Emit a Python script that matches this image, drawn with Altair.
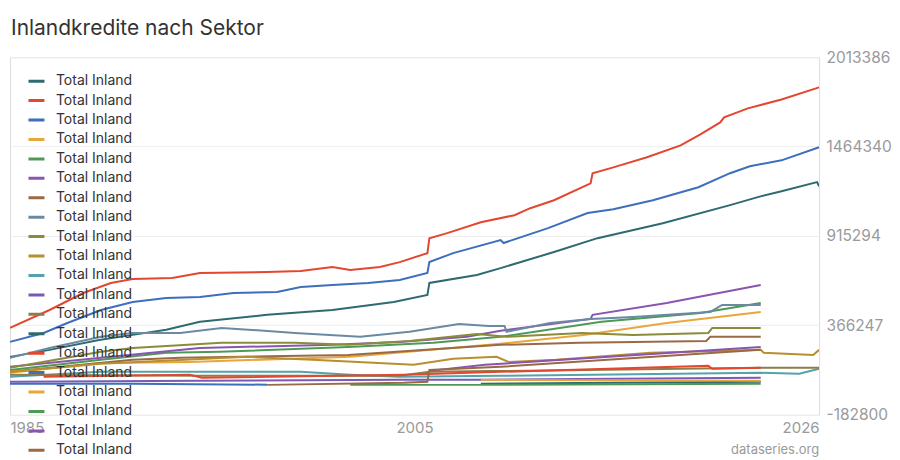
import altair as alt
import pandas as pd

# ---- data (year, value) ----
s01_years = [1985.0, 1987.0, 1989.5, 1991.2, 1992.9, 1994.6, 1998.0, 2001.3, 2004.4, 2006.1, 2006.2, 2008.6, 2009.8, 2012.5, 2014.7, 2018.0, 2021.4, 2022.8, 2024.0, 2025.8, 2025.9]
s01_values = [173000, 216000, 277000, 308000, 339000, 388000, 431000, 461000, 510000, 553000, 627000, 676000, 718000, 817000, 902000, 994000, 1105000, 1154000, 1190000, 1246000, 1221000]

s02_years = [1985.0, 1987.0, 1988.7, 1990.1, 1991.2, 1993.2, 1994.6, 1998.0, 1999.7, 2001.3, 2002.2, 2003.7, 2004.7, 2006.1, 2006.2, 2007.1, 2008.8, 2010.5, 2011.3, 2012.5, 2014.35, 2014.45, 2015.5, 2017.2, 2018.9, 2019.9, 2020.9, 2021.1, 2022.3, 2024.0, 2025.9]
s02_values = [351000, 461000, 565000, 627000, 651000, 657000, 688000, 694000, 700000, 725000, 706000, 725000, 755000, 810000, 902000, 933000, 1000000, 1043000, 1086000, 1135000, 1239000, 1301000, 1337000, 1399000, 1472000, 1540000, 1613000, 1644000, 1699000, 1754000, 1828000]

s03_years = [1985.0, 1986.7, 1987.9, 1989.6, 1991.2, 1992.9, 1994.6, 1996.3, 1998.5, 1999.7, 2001.3, 2003.1, 2004.7, 2006.1, 2006.2, 2007.4, 2009.8, 2009.95, 2012.2, 2014.2, 2015.5, 2017.5, 2019.8, 2021.4, 2022.4, 2024.0, 2025.9]
s03_values = [265000, 320000, 381000, 461000, 510000, 535000, 541000, 565000, 572000, 602000, 614000, 627000, 645000, 688000, 755000, 810000, 890000, 872000, 964000, 1056000, 1080000, 1135000, 1215000, 1301000, 1344000, 1380000, 1460000]

s04_years = [1985.0, 1989.6, 1994.1, 2002.2, 2009.8, 2014.0, 2018.2, 2022.95]
s04_values = [75000, 136000, 142000, 173000, 253000, 308000, 381000, 449000]

s05_years = [1985.0, 1989.6, 1992.9, 1995.6, 2002.1, 2006.4, 2009.8, 2014.9, 2019.9, 2022.95]
s05_values = [93000, 155000, 198000, 204000, 234000, 259000, 296000, 388000, 443000, 504000]

s06_years = [1985.0, 1989.6, 1994.6, 2001.3, 2004.7, 2008.1, 2009.8, 2014.35, 2014.45, 2018.2, 2022.95]
s06_values = [112000, 167000, 228000, 247000, 265000, 296000, 333000, 406000, 431000, 504000, 614000]

s07_years = [1985.0, 1991.2, 1993.6, 2002.1, 2009.8, 2013.8, 2020.2, 2020.4, 2022.95]
s07_values = [81000, 155000, 167000, 185000, 247000, 259000, 271000, 296000, 296000]

s08_years = [1985.0, 1987.0, 1989.6, 1991.2, 1993.6, 1995.7, 1999.4, 2002.7, 2005.2, 2007.7, 2009.2, 2010.0, 2010.1, 2012.3, 2014.35, 2016.5, 2020.4, 2021.0, 2022.95]
s08_values = [167000, 228000, 296000, 320000, 320000, 351000, 320000, 296000, 327000, 375000, 363000, 363000, 327000, 381000, 406000, 418000, 449000, 492000, 492000]

s09_years = [1985.0, 1989.6, 1991.2, 1995.7, 1999.4, 2002.1, 2005.2, 2008.6, 2010.1, 2013.9, 2016.5, 2020.3, 2020.5, 2022.95]
s09_values = [106000, 204000, 228000, 259000, 259000, 247000, 271000, 314000, 296000, 320000, 308000, 320000, 351000, 351000]

s10_years = [1985.0, 1989.6, 1997.0, 2000.3, 2005.4, 2007.4, 2009.6, 2010.2, 2012.6, 2017.4, 2022.95, 2023.1, 2025.6, 2025.9]
s10_values = [81000, 130000, 173000, 155000, 124000, 161000, 173000, 142000, 155000, 198000, 216000, 198000, 185000, 216000]

s11_years = [1985.0, 1989.6, 1995.6, 1999.7, 2002.2, 2004.7, 2009.8, 2022.95, 2024.9, 2025.9]
s11_values = [51000, 81000, 81000, 81000, 63000, 51000, 57000, 75000, 69000, 100000]

s12_years = [1985.0, 1994.6, 2004.7, 2008.8, 2022.95]
s12_values = [20000, 26000, 32000, 32000, 45000]

s13_years = [1985.0, 1994.6, 2004.7, 2006.2, 2022.95, 2025.9]
s13_values = [63000, 57000, 57000, 81000, 106000, 106000]

s14_years = [2008.8, 2022.95]
s14_values = [8000, 20000]

s15_years = [1986.7, 1994.1, 1994.7, 2004.9, 2009.8, 2020.3, 2020.5, 2022.95]
s15_values = [51000, 63000, 45000, 63000, 81000, 118000, 100000, 106000]

s16_years = [1985.0, 1991.2, 1998.0]
s16_values = [8000, 8000, 2000]

s17_years = [2008.8, 2022.95]
s17_values = [32000, 26000]

s18_years = [2002.2, 2008.8, 2022.95]
s18_values = [1000, 1000, 8000]

s19_years = [2006.2, 2009.0, 2022.95]
s19_values = [87000, 124000, 234000]

s20_years = [1998.0, 2004.9, 2006.1, 2006.2, 2009.8, 2022.95]
s20_values = [1000, 14000, 20000, 93000, 112000, 216000]

series_keys = ["s01", "s02", "s03", "s04", "s05", "s06", "s07", "s08", "s09", "s10",
               "s11", "s12", "s13", "s14", "s15", "s16", "s17", "s18", "s19", "s20"]
series_colors = ["#2e6b70", "#e4472f", "#3d6fbd", "#e9a63a", "#4e9a55", "#8a55b0", "#9a6a45",
                 "#6a8aa3", "#8a8c3a", "#b88f2e", "#52a3ac", "#7a5ab5", "#8f7c4a",
                 "#2e6b70", "#e4472f", "#3d6fbd", "#e9a63a", "#4e9a55", "#8a55b0", "#9a6a45"]
legend_label = "Total Inland"

x_ticks = [1985.0, 2005.45, 2025.9]
y_ticks = [-182800, 366247, 915294, 1464340, 2013386]

all_years = [s01_years, s02_years, s03_years, s04_years, s05_years, s06_years, s07_years,
             s08_years, s09_years, s10_years, s11_years, s12_years, s13_years, s14_years,
             s15_years, s16_years, s17_years, s18_years, s19_years, s20_years]
all_values = [s01_values, s02_values, s03_values, s04_values, s05_values, s06_values, s07_values,
              s08_values, s09_values, s10_values, s11_values, s12_values, s13_values, s14_values,
              s15_values, s16_values, s17_values, s18_values, s19_values, s20_values]

rows = []
for key, ys, vs in zip(series_keys, all_years, all_values):
    for yr, v in zip(ys, vs):
        rows.append({"series": key, "year": yr, "value": v})
df = pd.DataFrame(rows)

FONT = "Inter"

lines = alt.Chart(df).mark_line(strokeWidth=2, clip=True).encode(
    x=alt.X("year:Q",
            scale=alt.Scale(domain=[x_ticks[0], x_ticks[-1]], nice=False, zero=False),
            axis=alt.Axis(values=x_ticks, labelExpr="round(datum.value)", labelFlush=True,
                          grid=False, ticks=False, domain=False, labelFontSize=15,
                          labelColor="#9a9a9a", labelPadding=6, labelFont=FONT, title=None)),
    y=alt.Y("value:Q",
            scale=alt.Scale(domain=[y_ticks[0], y_ticks[-1]], nice=False, zero=False),
            axis=alt.Axis(orient="right", values=y_ticks, labelExpr="'' + datum.value",
                          grid=True, gridColor="#eeeeee", gridWidth=1, ticks=False, domain=False,
                          labelFontSize=15.5, labelColor="#9a9a9a", labelPadding=7,
                          labelFont=FONT, title=None)),
    color=alt.Color("series:N",
                    scale=alt.Scale(domain=series_keys, range=series_colors),
                    legend=alt.Legend(orient="none", legendX=17, legendY=16, title=None,
                                      labelExpr="'" + legend_label + "'",
                                      symbolType="stroke", symbolSize=256, symbolStrokeWidth=3,
                                      labelFontSize=14, labelColor="#333333", labelFont=FONT,
                                      labelOffset=10, rowPadding=3.45, clipHeight=16, padding=0)),
)

mark_text_df = pd.DataFrame({"t": ["dataseries.org"]})
watermark = alt.Chart(mark_text_df).mark_text(
    align="right", baseline="middle", fontSize=13, color="#9a9a9a", font=FONT
).encode(x=alt.value(810), y=alt.value(393), text="t:N")

chart = alt.layer(lines, watermark).properties(
    width=810,
    height=358,
    autosize=alt.AutoSizeParams(type="none"),
    padding={"left": 2, "top": 49, "right": 73, "bottom": 56},
    title=alt.TitleParams("Inlandkredite nach Sektor", anchor="start", fontSize=21,
                          font=FONT, fontWeight="normal", color="#333333", offset=11, dx=1),
).configure_view(stroke=None).configure(background="white")

chart.save("out.html", embed_options={"renderer": "svg", "actions": False})
